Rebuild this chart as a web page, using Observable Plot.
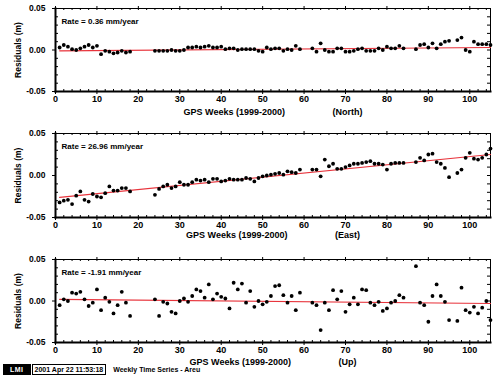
<!DOCTYPE html>
<html><head><meta charset="utf-8">
<script src="https://cdn.jsdelivr.net/npm/d3@7"></script>
<script src="https://cdn.jsdelivr.net/npm/@observablehq/plot@0.6"></script>
<style>
body{margin:0;background:#fff;width:500px;height:377px;overflow:hidden;font-family:"Liberation Sans",Arial,sans-serif}
#charts svg{display:block}
.footer{height:15px;display:flex;align-items:center;font-size:7px;font-weight:bold;color:#000;padding-left:3px;box-sizing:border-box}
.footer .logo{background:#000;color:#fff;padding:0 6px;height:9px;line-height:9px;border:1px solid #000;letter-spacing:0.5px}
.footer .date{border:1px solid #000;padding:0 2px;height:9px;line-height:9px;margin-left:1px;letter-spacing:0}
.footer .title{margin-left:7px;letter-spacing:0}
</style></head><body>
<div id="charts"></div>
<div class="footer"><span class="logo">LMI</span><span class="date">2001 Apr 22 11:53:18</span><span class="title">Weekly Time Series - Areu</span></div>
<script>
const weeks = [1,2,3,4,5,6,7,8,9,10,11,12,13,14,15,16,17,18,
  24,25,26,27,28,29,30,31,32,33,34,35,36,37,38,39,40,41,42,43,44,45,46,47,
  48,49,50,51,52,53,54,55,56,57,58,59,
  62,63,64,65,66,67,68,69,70,71,72,73,74,75,76,77,78,79,80,81,82,83,84,
  87,88,89,90,91,92,93,94,95,
  97,98,99,100,101,102,103,104,105];
const north = [0.003,0.006,0.004,0.001,0.000,0.002,0.004,0.006,0.003,0.005,-0.005,-0.001,-0.002,-0.004,-0.003,-0.001,-0.003,-0.002,
  -0.001,-0.001,-0.001,-0.001,0.000,-0.001,-0.001,0.000,0.003,0.003,0.004,0.003,0.004,0.005,0.003,0.003,0.004,0.001,0.002,0.002,0.000,0.001,0.001,0.001,
  0.001,-0.001,-0.002,0.003,0.001,0.002,0.002,-0.001,0.001,0.000,0.005,0.001,
  0.002,-0.002,0.008,0.000,-0.002,-0.002,0.002,0.002,-0.002,-0.002,-0.001,0.001,0.002,-0.001,-0.001,-0.001,0.002,0.000,0.004,0.002,0.002,0.005,0.002,
  0.001,0.006,0.007,0.003,0.008,0.002,0.007,0.010,0.011,
  0.012,0.015,0.000,-0.002,0.010,0.007,0.007,0.007,0.006];
const east = [-0.032,-0.030,-0.029,-0.034,-0.024,-0.019,-0.029,-0.031,-0.022,-0.025,-0.026,-0.021,-0.013,-0.018,-0.018,-0.015,-0.015,-0.019,
  -0.023,-0.016,-0.013,-0.011,-0.015,-0.013,-0.008,-0.011,-0.011,-0.008,-0.005,-0.006,-0.005,-0.008,-0.004,-0.004,-0.007,-0.006,-0.004,-0.005,-0.005,-0.005,-0.003,-0.004,
  -0.007,-0.003,-0.001,0.000,0.001,0.002,0.003,0.001,0.005,0.004,0.003,0.007,
  0.007,0.007,-0.001,0.019,0.011,0.014,0.008,0.008,0.010,0.012,0.014,0.014,0.015,0.016,0.017,0.014,0.014,0.013,0.007,0.014,0.015,0.015,0.015,
  0.016,0.021,0.018,0.025,0.026,0.016,0.014,0.009,-0.002,
  0.003,0.007,0.021,0.027,0.020,0.019,0.021,0.025,0.032];
const up = [-0.005,0.002,0.000,0.010,0.009,0.011,0.002,-0.006,-0.002,0.014,-0.011,0.004,-0.001,-0.015,-0.005,0.011,-0.002,-0.018,
  0.002,-0.018,-0.001,-0.003,-0.013,-0.015,0.000,0.003,-0.001,0.006,0.014,0.012,0.004,0.020,0.002,0.009,0.005,0.003,-0.009,0.022,0.014,0.021,-0.002,0.012,
  -0.007,0.000,-0.004,-0.001,0.006,0.018,0.019,0.007,-0.002,0.006,-0.011,0.010,
  -0.002,-0.005,-0.035,-0.002,-0.011,0.013,0.002,0.012,-0.013,-0.004,0.004,-0.004,0.014,0.013,-0.002,-0.005,-0.001,-0.012,-0.009,-0.002,0.000,0.007,0.004,
  0.042,-0.002,-0.005,-0.025,0.006,0.020,0.006,-0.001,-0.023,
  -0.024,0.016,-0.011,-0.014,-0.007,-0.015,-0.008,0.000,-0.023];
const trendWeeks = [1, 105];
const northTrend = [-0.001, 0.003];
const eastTrend = [-0.026, 0.025];
const upTrend = [0.002, -0.003];
const rates = ["0.36", "26.96", "-1.91"];
const components = ["(North)", "(East)", "(Up)"];
const xMajor = [0,10,20,30,40,50,60,70,80,90,100];
const xMinor = d3.range(0, 106, 2);
const yMajor = [-0.05, 0, 0.05];
const yMinor = [-0.04,-0.03,-0.02,-0.01,0.01,0.02,0.03,0.04];
const xLabel = "GPS Weeks (1999-2000)";

function panel(values, trend, rate, comp, {marginTop, marginBottom, height, labelOffset}) {
  const data = weeks.map((w, i) => ({w, v: values[i]}));
  const trendData = trendWeeks.map((w, i) => ({w, v: trend[i]}));
  const innerH = height - marginTop - marginBottom;
  const innerW = 500 - 55 - 10;
  const gap = "\u00a0".repeat(19);
  return Plot.plot({
    width: 500, height, marginLeft: 55, marginRight: 10, marginTop, marginBottom,
    x: {domain: [0, 105]},
    y: {domain: [-0.05, 0.05]},
    style: {fontFamily: '"Liberation Sans", Arial, sans-serif', fontSize: "8.5px", fontWeight: "bold", color: "#000", background: "#fff", overflow: "visible"},
    marks: [
      Plot.tickX(xMinor, {x: d => d, insetTop: innerH - 2, stroke: "#000"}),
      Plot.tickX(xMinor, {x: d => d, insetBottom: innerH - 2, stroke: "#000"}),
      Plot.tickY(yMinor, {y: d => d, insetRight: innerW - 3, stroke: "#000"}),
      Plot.tickY(yMinor.concat(yMajor), {y: d => d, insetLeft: innerW - 3, stroke: "#000"}),
      Plot.axisX({ticks: xMajor, tickSize: 3, tickPadding: 1, tickFormat: d => String(d), label: xLabel + gap + comp, labelAnchor: "center", labelArrow: "none", labelOffset, fontSize: 9}),
      Plot.axisX({anchor: "top", ticks: xMajor, tickSize: 3, tickFormat: () => "", label: null}),
      Plot.axisY({ticks: yMajor, tickSize: 3, tickPadding: 7, tickFormat: d => d.toFixed(2), label: "Residuals (m)", labelAnchor: "center", labelArrow: "none", labelOffset: 41, fontSize: 8.5}),
      Plot.frame({stroke: "#000", strokeWidth: 1}),
      Plot.frame({anchor: "left", stroke: "#000", strokeWidth: 2}),
      Plot.frame({anchor: "bottom", stroke: "#000", strokeWidth: 2}),
      Plot.line(trendData, {x: "w", y: "v", stroke: "#e8343c", strokeWidth: 1.2}),
      Plot.dot(data, {x: "w", y: "v", r: 1.9, fill: "#000", stroke: "none"}),
      Plot.text([rate], {frameAnchor: "top-left", dx: 6, dy: 10, text: d => `Rate = ${d} mm/year`, textAnchor: "start", fontSize: 8})
    ]
  });
}

const el = document.getElementById("charts");
el.append(panel(north, northTrend, rates[0], components[0], {marginTop: 8, marginBottom: 34, height: 125, labelOffset: 23}));
el.append(panel(east, eastTrend, rates[1], components[1], {marginTop: 8, marginBottom: 33, height: 125, labelOffset: 20}));
el.append(panel(up, upTrend, rates[2], components[2], {marginTop: 9, marginBottom: 20, height: 112, labelOffset: 22}));
</script>
</body></html>
